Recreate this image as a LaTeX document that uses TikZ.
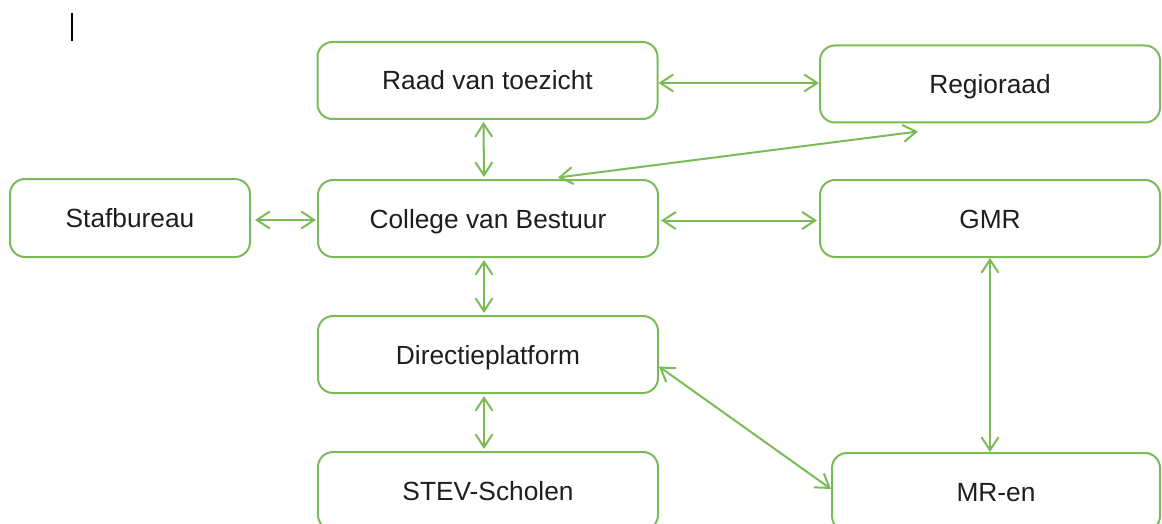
\documentclass[tikz,border=0pt]{standalone}
\usepackage{fontspec}
\setmainfont{Liberation Sans}
\usetikzlibrary{arrows.meta,calc}
\definecolor{boxgreen}{RGB}{122,187,88}
\definecolor{txt}{RGB}{30,30,30}
\tikzset{
  orgbox/.style={draw=boxgreen, line width=2pt, rounded corners=15pt, fill=white,
    minimum width=340pt, minimum height=77pt, inner sep=0pt,
    text height=19pt, text depth=-2pt,
    font=\fontsize{26.3}{30}\selectfont, text=txt},
  arr/.style={draw=boxgreen, line width=2pt,
    {Straight Barb[length=13pt,width=17pt]}-{Straight Barb[length=13pt,width=17pt]}}
}
\begin{document}
\begin{tikzpicture}[x=1pt,y=-1pt]
\useasboundingbox (0,0) rectangle (1162,524);
\clip (0,0) rectangle (1162,524);
\node[orgbox] (raad) at (487.5,80.5) {Raad van toezicht};
\node[orgbox] (regio) at (990,84) {Regioraad};
\node[orgbox, minimum width=240pt, minimum height=78pt] (staf) at (130,218) {Stafbureau};
\node[orgbox] (cvb) at (488,218.5) {College van Bestuur};
\node[orgbox] (gmr) at (990,218.5) {GMR};
\node[orgbox] (dir) at (488,354.5) {Directieplatform};
\node[orgbox, minimum height=78pt] (stev) at (488,491) {STEV-Scholen};
\node[orgbox, minimum width=328pt, minimum height=78pt] (mr) at (996,492) {MR-en};
% cursor mark
\coordinate (curA) at (72,13);
\coordinate (curB) at (72,41);
\draw[line width=1.3pt, black] (curA) -- (curB);
% connectors
\draw[arr] ([yshift=-2.5pt]raad.east) -- ([yshift=-2.5pt]raad.east -| regio.west);
\draw[arr, shorten <=2pt, shorten >=2pt] ([xshift=-4pt]raad.south) -- ([xshift=-4pt]cvb.north);
\draw[arr, shorten <=4pt, shorten >=1pt] ([yshift=-2pt]staf.east) -- ([yshift=-2pt]staf.east -| cvb.west);
\draw[arr, shorten <=2pt, shorten >=2pt] ([yshift=-2pt]cvb.east) -- ([yshift=-2pt]cvb.east -| gmr.west);
\draw[arr, shorten <=2pt, shorten >=2pt] ([xshift=-4pt]cvb.south) -- ([xshift=-4pt]dir.north);
\draw[arr, shorten <=2pt, shorten >=2pt] ([xshift=-4pt]dir.south) -- ([xshift=-4pt]stev.north);
\coordinate (rgA) at ($(regio.south)+(-72,8)$);
\coordinate (rgB) at ($(cvb.north)+(70,-1.5)$);
\draw[arr] (rgA) -- (rgB);
\draw[arr] ([yshift=-12pt]dir.east) -- ([yshift=3pt]mr.west);
\draw[arr] (gmr.south) -- (gmr.south |- mr.north);
\end{tikzpicture}
\end{document}
